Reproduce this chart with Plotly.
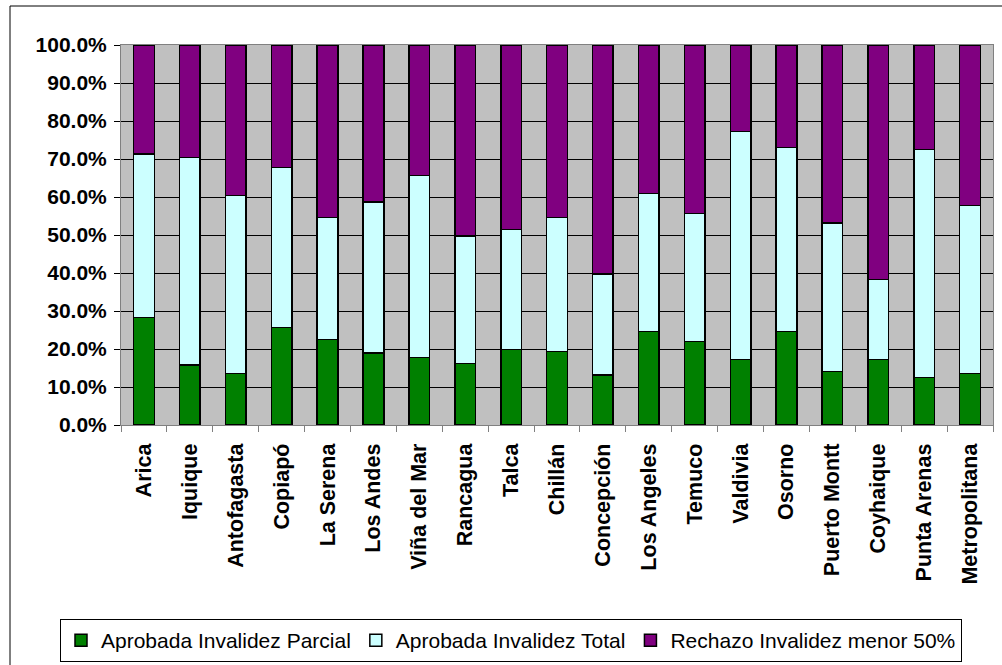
import plotly.graph_objects as go

categories = ["Arica", "Iquique", "Antofagasta", "Copiapó", "La Serena", "Los Andes",
              "Viña del Mar", "Rancagua", "Talca", "Chillán", "Concepción", "Los Angeles",
              "Temuco", "Valdivia", "Osorno", "Puerto Montt", "Coyhaique", "Punta Arenas",
              "Metropolitana"]

parcial = [28.3, 15.8, 13.6, 25.7, 22.5, 18.9, 17.8, 16.2, 19.9, 19.4, 13.1, 24.6,
           22.0, 17.3, 24.6, 14.1, 17.3, 12.5, 13.6]
total = [43.0, 54.6, 46.8, 42.0, 32.1, 39.8, 47.8, 33.6, 31.6, 35.2, 26.7, 36.3,
         33.7, 59.9, 48.4, 39.0, 21.0, 60.0, 44.1]
rechazo = [28.7, 29.6, 39.6, 32.3, 45.4, 41.3, 34.4, 50.2, 48.5, 45.4, 60.2, 39.1,
           44.3, 22.8, 27.0, 46.9, 61.7, 27.5, 42.3]

series_names = ["Aprobada Invalidez Parcial", "Aprobada Invalidez Total",
                "Rechazo Invalidez menor 50%"]
series_colors = ["#008000", "#CCFFFF", "#800080"]

FONT = "Arial, Liberation Sans, sans-serif"

fig = go.Figure()
for name, vals, col in zip(series_names, [parcial, total, rechazo], series_colors):
    fig.add_trace(go.Bar(
        x=categories, y=vals, name=name,
        marker=dict(color=col, line=dict(color="black", width=1.5)),
    ))

W, H = 1002, 665
L, R, T, B = 121, 9, 45, 240
pw, ph = W - L - R, H - T - B

def px_x(x):
    return (x - L) / pw

def px_y(y):
    return (H - B - y) / ph

fig.update_layout(
    width=W, height=H,
    margin=dict(l=L, r=R, t=T, b=B, autoexpand=False),
    barmode="stack",
    bargap=0.55,
    paper_bgcolor="white",
    plot_bgcolor="#C0C0C0",
    font=dict(family=FONT, color="black"),
    showlegend=True,
    legend=dict(
        orientation="h",
        x=px_x(60), xanchor="left",
        y=px_y(619), yanchor="top",
        font=dict(family=FONT, size=21, color="black"),
        bordercolor="black", borderwidth=1,
        bgcolor="white",
        traceorder="normal",
    ),
    xaxis=dict(
        automargin=False,
        tickangle=-90,
        tickfont=dict(family=FONT, size=21.5, color="black", weight="bold"),
        ticklabelstandoff=9,
        showgrid=False,
        showline=True, linecolor="#808080", linewidth=1, mirror=True,
        ticks="outside", ticklen=6, tickcolor="#808080", tickson="boundaries",
    ),
    yaxis=dict(
        automargin=False,
        range=[0, 100], dtick=10, tick0=0,
        tickformat=".1f", ticksuffix="%",
        tickfont=dict(family=FONT, size=21, color="black", weight="bold"),
        ticklabelstandoff=3,
        showgrid=True, gridcolor="black", gridwidth=1,
        showline=True, linecolor="#808080", linewidth=1, mirror=True,
        ticks="outside", ticklen=6, tickcolor="black",
        zeroline=False,
    ),
    shapes=[dict(
        type="rect", xref="paper", yref="paper",
        x0=px_x(10), x1=px_x(1012), y0=px_y(680), y1=px_y(6),
        line=dict(color="black", width=1), fillcolor="rgba(0,0,0,0)", layer="below",
    )],
)

fig.write_html(
    "out.html",
    config={"displayModeBar": False},
    post_script="document.body.style.margin='0';document.body.style.overflow='hidden';",
)
